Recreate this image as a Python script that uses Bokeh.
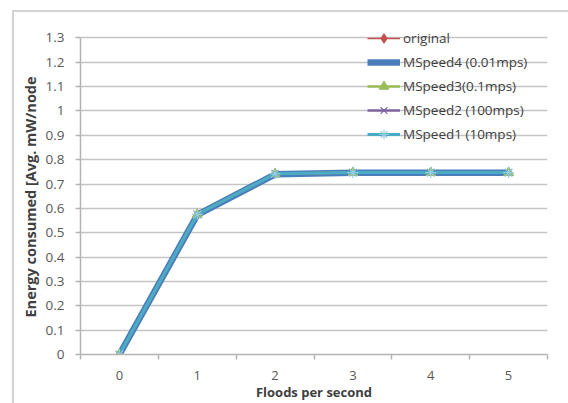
from bokeh.plotting import figure
from bokeh.models import Range1d, FixedTicker, Legend, LegendItem, Title
from bokeh.embed import file_html
from bokeh.resources import INLINE

# ---- data ----
floods = [0, 1, 2, 3, 4, 5]
x_tick_labels = ["0", "1", "2", "3", "4", "5"]

original = [0.0, 0.575, 0.742, 0.747, 0.747, 0.747]
mspeed4 = [0.0, 0.573, 0.740, 0.746, 0.746, 0.746]
mspeed3 = [0.0, 0.575, 0.742, 0.747, 0.747, 0.747]
mspeed2 = [0.0, 0.575, 0.742, 0.747, 0.747, 0.747]
mspeed1 = [0.0, 0.575, 0.742, 0.747, 0.747, 0.747]

series_names = ["original", "MSpeed4 (0.01mps)", "MSpeed3(0.1mps)",
                "MSpeed2 (100mps)", "MSpeed1 (10mps)"]

y_ticks = [0, 0.1, 0.2, 0.3, 0.4, 0.5, 0.6, 0.7, 0.8, 0.9, 1, 1.1, 1.2, 1.3]
y_tick_labels = ["0", "0.1", "0.2", "0.3", "0.4", "0.5", "0.6", "0.7",
                 "0.8", "0.9", "1", "1.1", "1.2", "1.3"]

x_title = "Floods per second"
y_title = "Energy consumed [Avg. mW/node"

# ---- figure ----
FONT = "Open Sans"
BORDER = "#d2d2d2"
# small headroom above the 1.3 gridline so the legend's first row is not clipped
y_top = y_ticks[-1] + 0.051

p = figure(width=556, height=393,
           x_range=Range1d(floods[0] - 0.5, floods[-1] + 0.5),
           y_range=Range1d(y_ticks[0], y_top),
           output_backend="svg", toolbar_location=None,
           min_border_left=68, min_border_right=21,
           min_border_top=15, min_border_bottom=48,
           margin=(10, 0, 0, 12),
           styles={"background": (
               f"linear-gradient({BORDER},{BORDER}) 0 0 / 100% 2px no-repeat, "
               f"linear-gradient({BORDER},{BORDER}) 0 0 / 2px 100% no-repeat, "
               "white")},
           background_fill_color="white", border_fill_alpha=0,
           outline_line_color=None)

axis_col = "#b3b3b3"
grid_col = "#c4c4c4"

# x axis: labels at categories, tick marks between categories
xa = p.xaxis[0]
minor = [f - 0.5 for f in floods] + [floods[-1] + 0.5]
xa.ticker = FixedTicker(ticks=floods, minor_ticks=minor)
xa.major_label_overrides = dict(zip(floods, x_tick_labels))
xa.major_tick_line_color = None
xa.minor_tick_out = 5
xa.minor_tick_in = 0
xa.minor_tick_line_color = axis_col
xa.minor_tick_line_width = 1.5
xa.axis_line_color = axis_col
xa.axis_line_width = 1.5
xa.axis_label = x_title
xa.major_label_standoff = 10
xa.axis_label_standoff = 0
xa.major_label_text_font_size = "13px"
xa.axis_label_text_font_size = "13px"

ya = p.yaxis[0]
ya.ticker = FixedTicker(ticks=y_ticks)
ya.bounds = (y_ticks[0], y_ticks[-1])
ya.major_label_overrides = dict(zip(y_ticks, y_tick_labels))
ya.major_tick_out = 5
ya.major_tick_in = 0
ya.major_tick_line_color = axis_col
ya.major_tick_line_width = 1.5
ya.minor_tick_line_color = None
ya.axis_line_color = axis_col
ya.axis_line_width = 1.5
ya.major_label_standoff = 11
ya.major_label_text_font_size = "13.5px"

for ax in (xa, ya):
    ax.major_label_text_font = FONT
    ax.major_label_text_color = "#595959"
    ax.axis_label_text_font = FONT
    ax.axis_label_text_font_style = "bold"
    ax.axis_label_text_color = "#404040"

ytitle = Title(text=y_title, align="left", offset=37, standoff=6,
               text_font=FONT, text_font_size="14.5px",
               text_font_style="bold", text_color="#404040")
p.add_layout(ytitle, "left")

p.xgrid.visible = False
p.ygrid.ticker = FixedTicker(ticks=y_ticks)
p.ygrid.grid_line_color = grid_col
p.ygrid.grid_line_width = 1.5

# ---- series ----
r0 = p.line(floods, original, line_color="#c0504d", line_width=1.5)
m0 = p.scatter(floods, original, marker="diamond", size=5, color="#c0504d")

r4 = p.line(floods, mspeed4, line_color="#4a7ebb", line_width=6.5)

r3 = p.line(floods, mspeed3, line_color="#9bbb59", line_width=2.5)
m3 = p.scatter(floods, mspeed3, marker="triangle", size=10, color="#9bbb59")

r2 = p.line(floods, mspeed2, line_color="#8064a2", line_width=2.5)
m2 = p.scatter(floods, mspeed2, marker="x", size=10, line_color="#8064a2",
               line_width=1.2)

r1 = p.line(floods, mspeed1, line_color="#4bacc6", line_width=3)
m1 = p.scatter(floods, mspeed1, marker="asterisk", size=11,
               line_color="#93cddd", line_width=1.2)

items = [
    LegendItem(label=series_names[0], renderers=[r0, m0]),
    LegendItem(label=series_names[1], renderers=[r4]),
    LegendItem(label=series_names[2], renderers=[r3, m3]),
    LegendItem(label=series_names[3], renderers=[r2, m2]),
    LegendItem(label=series_names[4], renderers=[r1, m1]),
]
legend = Legend(items=items, location=(287, 208), orientation="vertical",
                glyph_width=33, glyph_height=24, label_height=24,
                spacing=0, padding=0, margin=0, label_standoff=3,
                border_line_color=None, background_fill_alpha=0,
                label_text_font=FONT, label_text_font_size="13.5px",
                label_text_color="#404040")
p.add_layout(legend)

open("out.html", "w").write(file_html(p, INLINE))
